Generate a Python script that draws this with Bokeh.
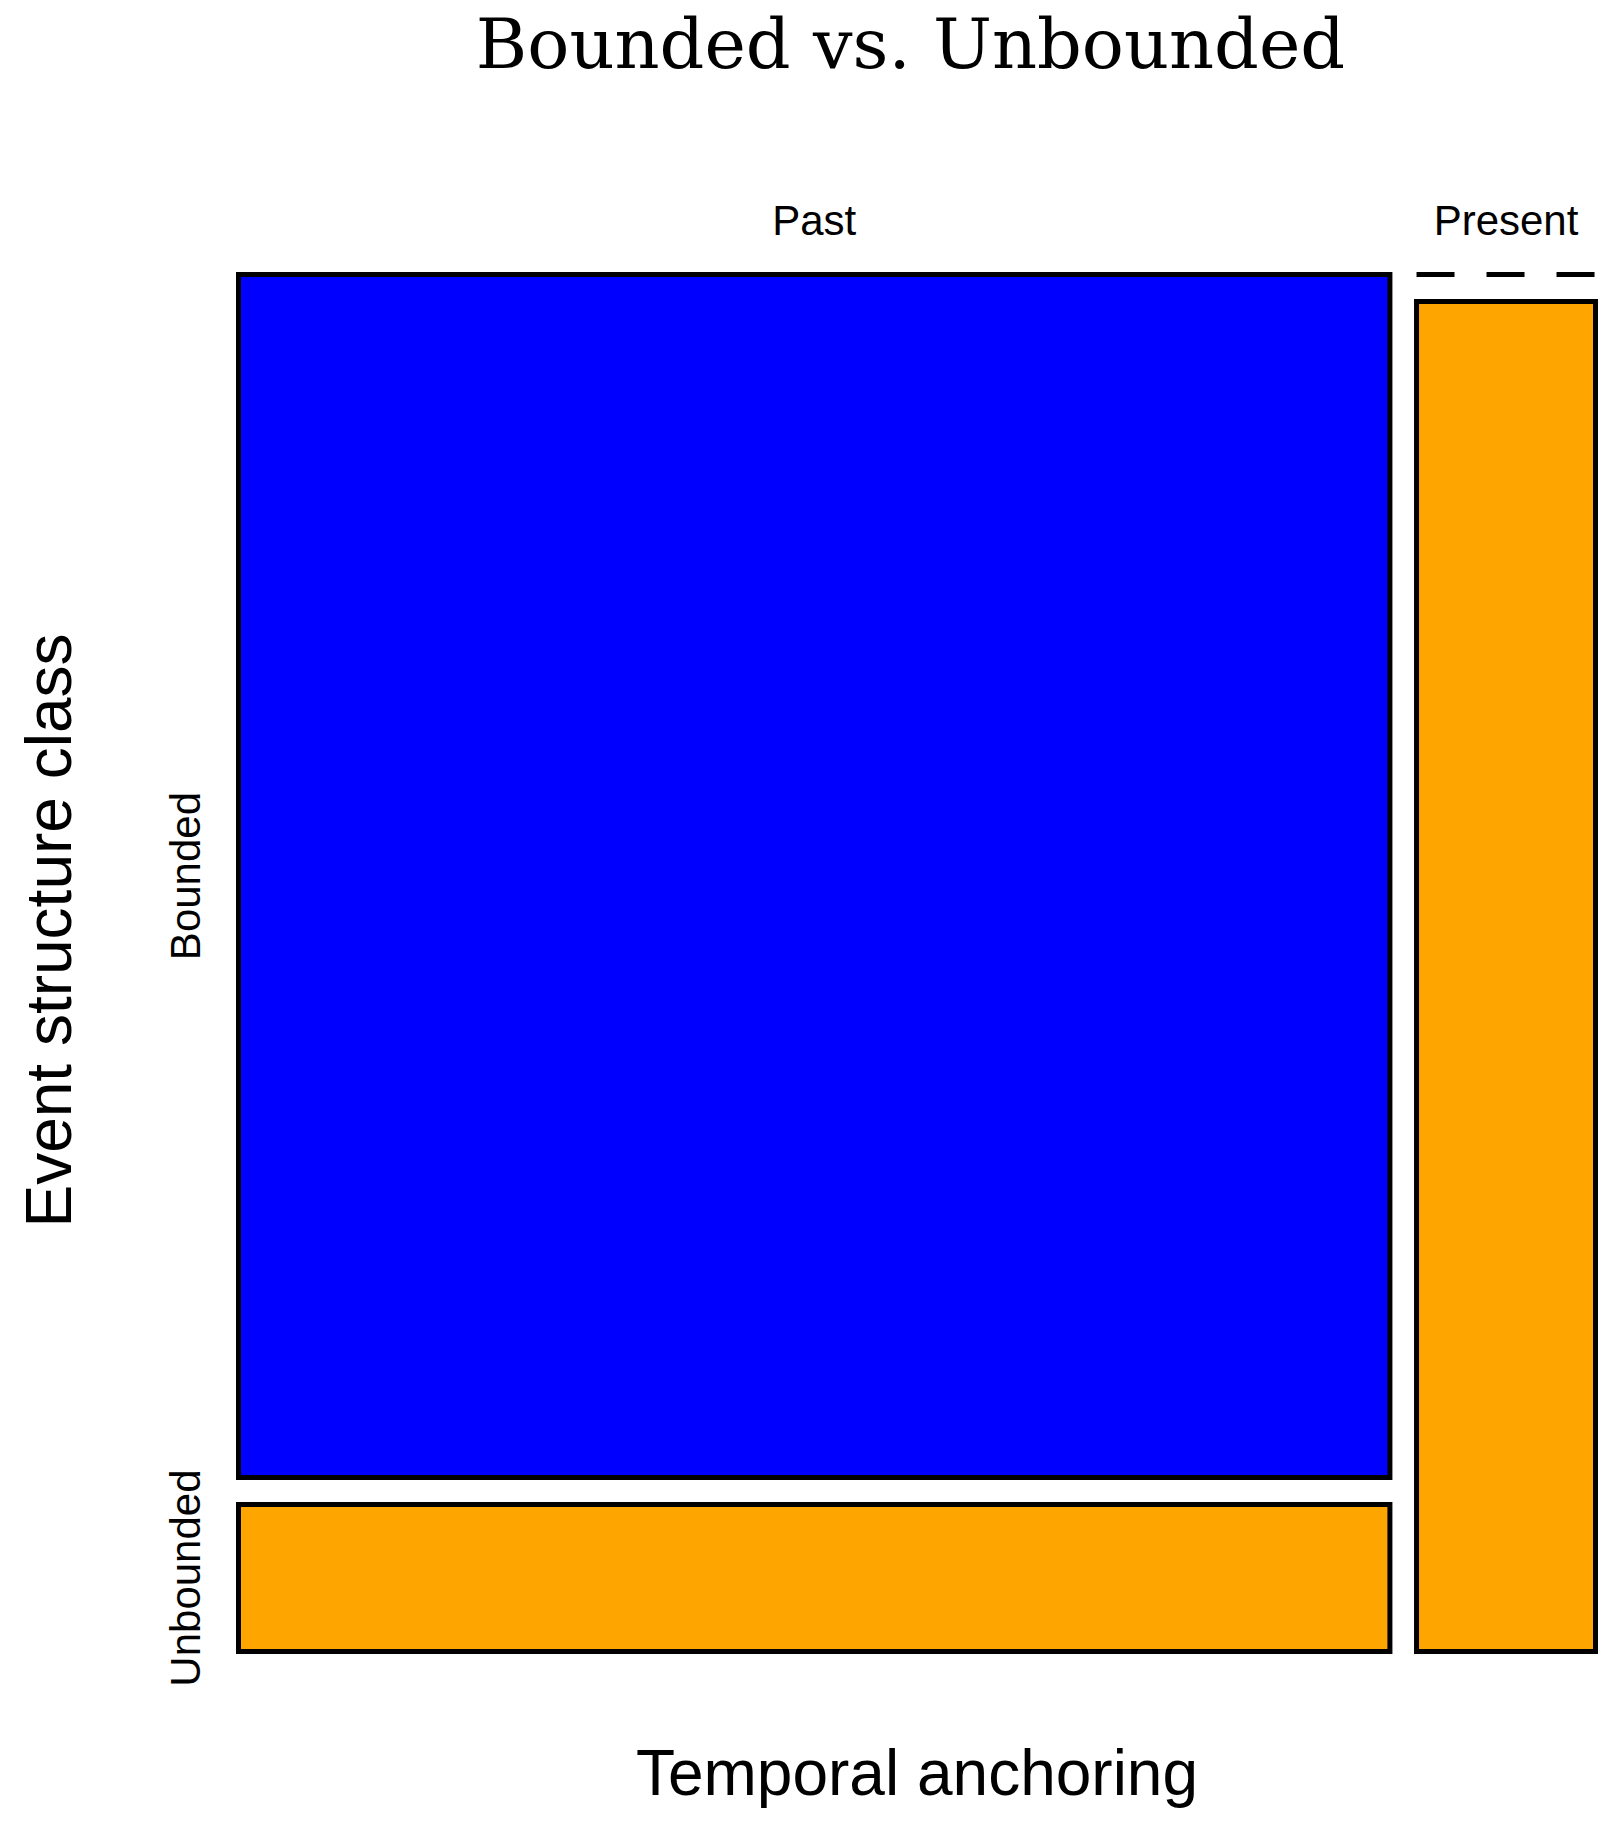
import numpy as np
from bokeh.plotting import figure
from bokeh.models import Range1d, ColumnDataSource
from bokeh.core.properties import value
from bokeh.embed import file_html
from bokeh.resources import INLINE

# ---------------- data ----------------
title_text = "Bounded vs. Unbounded"
x_label = "Temporal anchoring"
y_label = "Event structure class"
anchoring = ["Past", "Present"]
event_class = ["Bounded", "Unbounded"]
bounded_counts = [172, 0]
unbounded_counts = [21, 30]
class_colors = {"Bounded": "#0000FF", "Unbounded": "#FFA500"}

# ---------------- layout helpers ----------------
W, H = 1612, 1828
OFF = 0                          # page offset of the canvas
GAP = 0.02
X0, Y0 = 238.0, 1651.0           # page px of data (0, 0)
SX = 1357.0 / (1 + GAP)          # px per data unit, x
SY = 1377.0 / (1 + GAP)          # px per data unit, y
BSHIFT = 0.36                    # baseline correction (fraction of font size)


def px_x(page_x):
    return (page_x - X0) / SX


def px_y(page_y):
    return (Y0 - page_y) / SY


p = figure(width=W, height=H, output_backend="svg", toolbar_location=None,
           x_range=Range1d(px_x(OFF), px_x(OFF + W)),
           y_range=Range1d(px_y(OFF + H), px_y(OFF)),
           min_border=0, x_axis_location=None, y_axis_location=None)
p.grid.visible = False
p.outline_line_color = None
p.background_fill_color = "white"
p.border_fill_color = "white"

# ---------------- mosaic geometry from data ----------------
b = np.array(bounded_counts, dtype=float)
u = np.array(unbounded_counts, dtype=float)
totals = b + u
widths = totals / totals.sum()
lefts = np.concatenate([[0], np.cumsum(widths)[:-1]]) + GAP * np.arange(len(widths))
rights = lefts + widths

rects = dict(left=[], right=[], top=[], bottom=[], color=[])
dash_x0, dash_x1, dash_y = [], [], []
for i in range(len(anchoring)):
    hu = u[i] / totals[i]
    hb = b[i] / totals[i]
    # Unbounded (bottom)
    if hu > 0:
        rects["left"].append(lefts[i]); rects["right"].append(rights[i])
        rects["bottom"].append(0.0); rects["top"].append(hu)
        rects["color"].append(class_colors["Unbounded"])
    else:
        dash_x0.append(lefts[i]); dash_x1.append(rights[i]); dash_y.append(0.0)
    # Bounded (top)
    if hb > 0:
        rects["left"].append(lefts[i]); rects["right"].append(rights[i])
        rects["bottom"].append(hu + GAP); rects["top"].append(1 + GAP)
        rects["color"].append(class_colors["Bounded"])
    else:
        dash_x0.append(lefts[i]); dash_x1.append(rights[i]); dash_y.append(1 + GAP)

p.quad(source=ColumnDataSource(rects), left="left", right="right", top="top",
       bottom="bottom", fill_color="color", line_color="black", line_width=5,
       line_join="miter")

p.segment(x0=dash_x0, x1=dash_x1, y0=dash_y, y1=dash_y, line_color="black",
          line_width=5, line_dash="38 32")

# ---------------- labels ----------------
sans = value("Liberation Sans")
TICK_FS, AX_FS, TITLE_FS = 42, 64, 70

# column labels (top)
p.text(x=list((lefts + rights) / 2), y=[px_y(235 - BSHIFT * TICK_FS)] * len(anchoring),
       text=anchoring, text_font=sans, text_font_size=f"{TICK_FS}px", text_align="center",
       text_baseline="alphabetic", text_color="black")

# row labels (left), positioned by first column
hu0 = u[0] / totals[0]
row_centers = [(hu0 + GAP + 1 + GAP) / 2, hu0 / 2]
p.text(x=[px_x(200 - BSHIFT * TICK_FS)] * len(event_class), y=row_centers, text=event_class,
       angle=np.pi / 2, text_font=sans, text_font_size=f"{TICK_FS}px", text_align="center",
       text_baseline="alphabetic", text_color="black")

# axis titles
p.text(x=[(0 + rights[-1]) / 2], y=[px_y(1796 - BSHIFT * AX_FS)], text=[x_label],
       text_font=sans, text_font_size=f"{AX_FS}px", text_align="center",
       text_baseline="alphabetic", text_color="black")
p.text(x=[px_x(72 - BSHIFT * AX_FS)], y=[px_y(930)], text=[y_label], angle=np.pi / 2,
       text_font=sans, text_font_size=f"{AX_FS}px", text_align="center",
       text_baseline="alphabetic", text_color="black")

# main title
p.text(x=[px_x(910)], y=[px_y(69 - BSHIFT * TITLE_FS)], text=[title_text],
       text_font=value("DejaVu Serif"), text_font_size=f"{TITLE_FS}px",
       text_align="center", text_baseline="alphabetic", text_color="black")

open("out.html", "w").write(file_html(p, INLINE))
